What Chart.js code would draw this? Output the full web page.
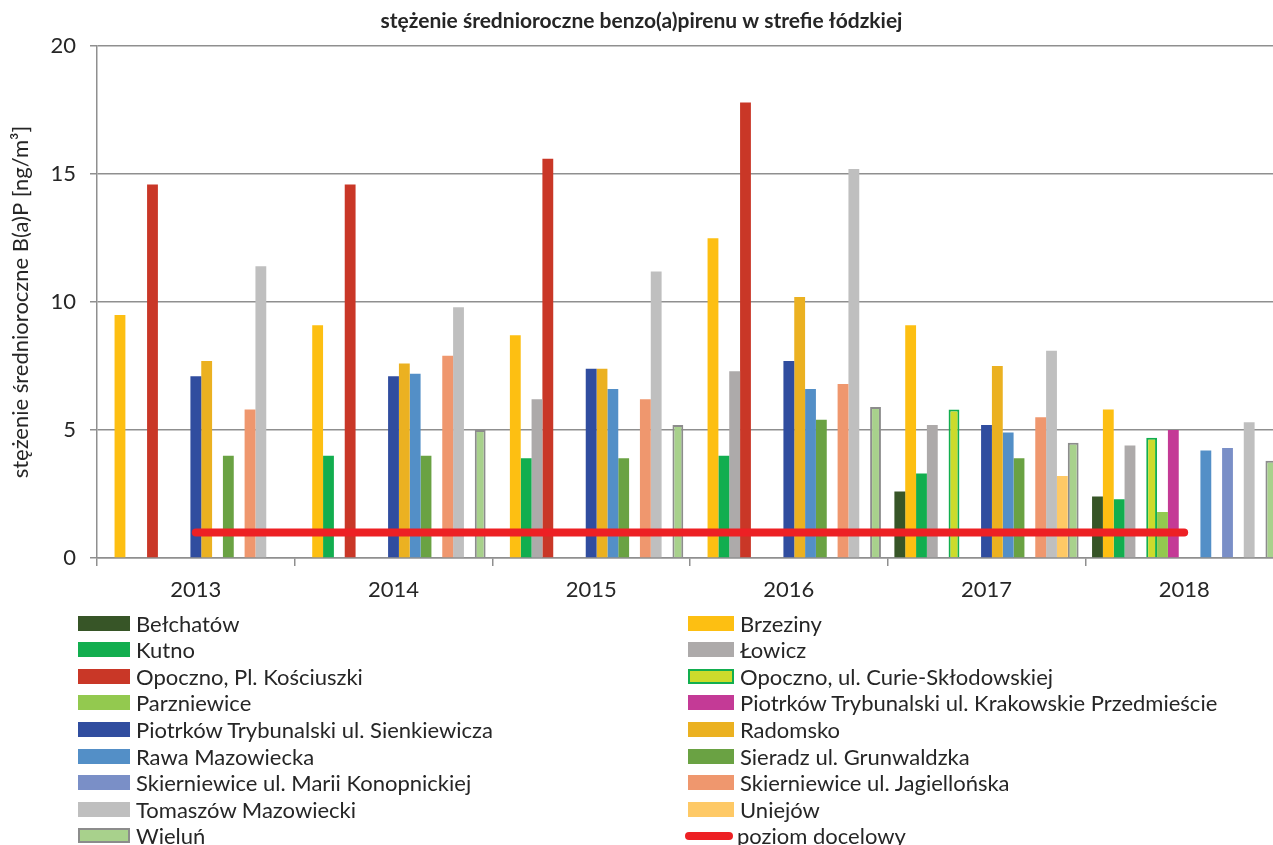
<!DOCTYPE html>
<html lang="pl">
<head>
<meta charset="utf-8">
<script src="https://cdn.jsdelivr.net/npm/chart.js@4.4.1/dist/chart.umd.min.js"></script>
<style>
  html, body { margin: 0; padding: 0; background: #fff; overflow: hidden; }
  body { width: 1273px; height: 845px; position: relative; font-family: Lato, "Noto Sans", sans-serif; color: #262626; }
  #wrap { position: absolute; left: 0; top: 0; width: 1283px; height: 612px; }
  #legend { position: absolute; left: 0; top: 0; width: 1273px; height: 845px; pointer-events: none; }
  .item { position: absolute; height: 20px; display: flex; align-items: center; font-size: 22px; white-space: nowrap; }
  .box { box-sizing: border-box; height: 15px; margin-right: 6px; flex: none; }
  .lineBox { height: 8px; border-radius: 4px; margin-right: 4px; flex: none; }
</style>
</head>
<body>
<div id="wrap"><canvas id="chart"></canvas></div>
<div id="legend"></div>
<script>
// lata pomiarowe
const years = ['2013', '2014', '2015', '2016', '2017', '2018'];

// średnioroczne stężenie B(a)P [ng/m3]
const belchatow      = [null, null, null, null, 2.6, 2.4];
const brzeziny       = [9.5, 9.1, 8.7, 12.5, 9.1, 5.8];
const kutno          = [null, 4.0, 3.9, 4.0, 3.3, 2.3];
const lowicz         = [null, null, 6.2, 7.3, 5.2, 4.4];
const opocznoPl      = [14.6, 14.6, 15.6, 17.8, null, null];
const opocznoCurie   = [null, null, null, null, 5.8, 4.7];
const parzniewice    = [null, null, null, null, null, 1.8];
const piotrkowKrak   = [null, null, null, null, null, 5.0];
const piotrkowSienk  = [7.1, 7.1, 7.4, 7.7, 5.2, null];
const radomsko       = [7.7, 7.6, 7.4, 10.2, 7.5, null];
const rawa           = [null, 7.2, 6.6, 6.6, 4.9, 4.2];
const sieradz        = [4.0, 4.0, 3.9, 5.4, 3.9, null];
const skierKonop     = [null, null, null, null, null, 4.3];
const skierJagiel    = [5.8, 7.9, 6.2, 6.8, 5.5, null];
const tomaszow       = [11.4, 9.8, 11.2, 15.2, 8.1, 5.3];
const uniejow        = [null, null, null, null, 3.2, null];
const wielun         = [null, 5.0, 5.2, 5.9, 4.5, 3.8];
const poziomDocelowy = [1, 1, 1, 1, 1, 1];

const yTicks = [0, 5, 10, 15, 20];

const font = 'Lato, "Noto Sans", sans-serif';
const axisGray = '#8f8f8f';

const bar = (label, data, color, border, borderWidth) => ({
    type: 'bar',
    label: label,
    data: data,
    backgroundColor: color,
    borderColor: border || color,
    borderWidth: borderWidth || 0,
    order: 1
});

const datasets = [
    bar('Bełchatów', belchatow, '#375527'),
    bar('Brzeziny', brzeziny, '#fdbf12'),
    bar('Kutno', kutno, '#12ae4f'),
    bar('Łowicz', lowicz, '#adaaaa'),
    bar('Opoczno, Pl. Kościuszki', opocznoPl, '#c93727'),
    bar('Opoczno, ul. Curie-Skłodowskiej', opocznoCurie, '#ccdb2c', '#12ae4f', 2),
    bar('Parzniewice', parzniewice, '#93c94f'),
    bar('Piotrków Trybunalski ul. Krakowskie Przedmieście', piotrkowKrak, '#c43a96'),
    bar('Piotrków Trybunalski ul. Sienkiewicza', piotrkowSienk, '#304d9f'),
    bar('Radomsko', radomsko, '#ebb121'),
    bar('Rawa Mazowiecka', rawa, '#538fc7'),
    bar('Sieradz ul. Grunwaldzka', sieradz, '#6aa243'),
    bar('Skierniewice ul. Marii Konopnickiej', skierKonop, '#7a8fc7'),
    bar('Skierniewice ul. Jagiellońska', skierJagiel, '#ef976e'),
    bar('Tomaszów Mazowiecki', tomaszow, '#bfbfbf'),
    bar('Uniejów', uniejow, '#fec966'),
    bar('Wieluń', wielun, '#a8d18c', '#8c8c8c', 2),
    {
        type: 'line',
        label: 'poziom docelowy',
        data: poziomDocelowy,
        borderColor: '#ed2024',
        backgroundColor: '#ed2024',
        borderWidth: 8,
        borderCapStyle: 'round',
        pointRadius: 0,
        fill: false,
        order: 0
    }
];

const ctx = document.getElementById('chart').getContext('2d');
const chart = new Chart(ctx, {
    data: { labels: years, datasets: datasets },
    options: {
        responsive: true,
        maintainAspectRatio: false,
        animation: false,
        layout: { padding: 0 },
        datasets: {
            bar: { categoryPercentage: 0.932, barPercentage: 1.0 }
        },
        plugins: {
            legend: { display: false },
            tooltip: { enabled: false },
            title: {
                display: true,
                text: 'stężenie średnioroczne benzo(a)pirenu w strefie łódzkiej',
                color: '#262626',
                font: { family: font, size: 21, weight: 'bold' },
                padding: { top: 9, bottom: 12 }
            }
        },
        scales: {
            x: {
                offset: true,
                afterFit: (scale) => { scale.height = 54; },
                grid: {
                    offset: true,
                    drawOnChartArea: false,
                    drawTicks: true,
                    tickLength: 8,
                    color: axisGray,
                    lineWidth: 1.5
                },
                border: { display: true, color: axisGray, width: 1.5 },
                ticks: { color: '#262626', font: { family: font, size: 22 }, padding: 11 }
            },
            y: {
                min: 0,
                max: 20,
                afterFit: (scale) => { scale.width = 97; },
                afterBuildTicks: (scale) => { scale.ticks = yTicks.map(v => ({ value: v })); },
                grid: {
                    color: axisGray,
                    lineWidth: 1.5,
                    tickLength: 7
                },
                border: { display: true, color: axisGray, width: 1.5 },
                ticks: { color: '#262626', font: { family: font, size: 22 }, padding: 14 },
                title: {
                    display: true,
                    text: 'stężenie średnioroczne B(a)P [ng/m³]',
                    color: '#262626',
                    font: { family: font, size: 22 },
                    padding: { top: 8, bottom: 0 }
                }
            }
        }
    }
});

// legenda w dwóch kolumnach, jak w oryginale
const legend = document.getElementById('legend');
const colX = [78, 688];
const boxW = [52, 46];
chart.data.datasets.forEach((ds, i) => {
    const col = i % 2;
    const row = Math.floor(i / 2);
    const item = document.createElement('div');
    item.className = 'item';
    item.style.left = colX[col] + 'px';
    item.style.top = (613 + row * 26.6) + 'px';
    const sw = document.createElement('span');
    if (ds.type === 'line') {
        sw.className = 'lineBox';
        sw.style.width = (boxW[col] + 2) + 'px';
        sw.style.background = ds.borderColor;
        item.style.left = (colX[col] - 3) + 'px';
    } else {
        sw.className = 'box';
        sw.style.width = boxW[col] + 'px';
        sw.style.background = ds.backgroundColor;
        if (ds.borderWidth) sw.style.border = ds.borderWidth + 'px solid ' + ds.borderColor;
    }
    const txt = document.createElement('span');
    txt.textContent = ds.label;
    item.appendChild(sw);
    item.appendChild(txt);
    legend.appendChild(item);
});
</script>
</body>
</html>
